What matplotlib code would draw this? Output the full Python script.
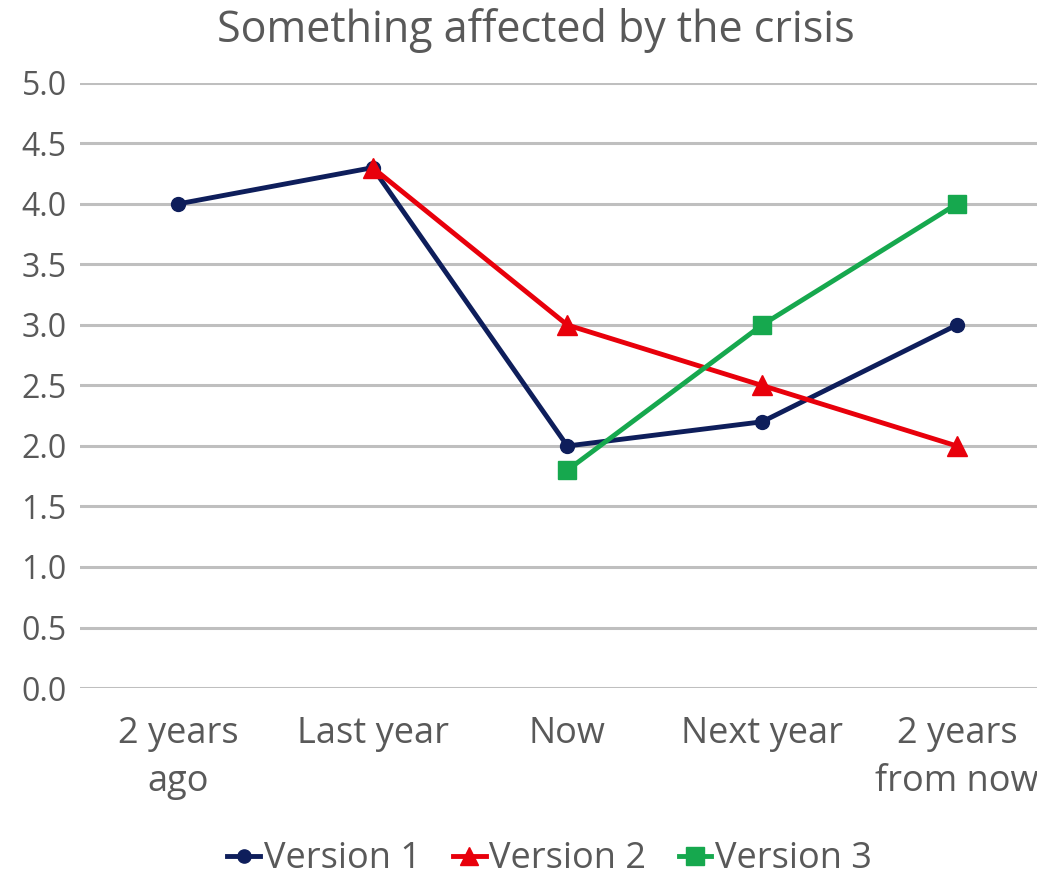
import numpy as np
import matplotlib
matplotlib.use("Agg")
import matplotlib.pyplot as plt

categories = ["2 years\nago", "Last year", "Now", "Next year", "2 years\nfrom now"]
version_1 = [4.0, 4.3, 2.0, 2.2, 3.0]
version_2 = [np.nan, 4.3, 3.0, 2.5, 2.0]
version_3 = [np.nan, np.nan, 1.8, 3.0, 4.0]
y_ticks = [0.0, 0.5, 1.0, 1.5, 2.0, 2.5, 3.0, 3.5, 4.0, 4.5, 5.0]

plt.rcParams["font.family"] = ["Open Sans", "DejaVu Sans"]
text_gray = "#595959"

fig = plt.figure(figsize=(10.37, 8.76), dpi=100)
ax = fig.add_axes([0.0776, 0.2146, 0.939, 0.6907])

x = np.arange(len(categories))
ax.plot(x, version_1, color="#0E1E5B", lw=3.5, marker="o", ms=10,
        label="Version 1", zorder=3)
ax.plot(x, version_2, color="#E8000B", lw=3.5, marker="^", ms=14,
        label="Version 2", zorder=4)
ax.plot(x, version_3, color="#16A84E", lw=3.5, marker="s", ms=13,
        label="Version 3", zorder=5)

ax.set_xlim(-0.5, 4.5)
ax.set_ylim(0, 5)
ax.set_yticks(y_ticks)
ax.set_yticklabels([f"{v:.1f}" for v in y_ticks])
ax.set_xticks(x)
ax.set_xticklabels(categories, linespacing=1.45)
ax.grid(True, axis="y", color="#BFBFBF", lw=2.2, zorder=0)
ax.set_axisbelow(True)
for s in ax.spines.values():
    s.set_visible(False)
ax.tick_params(axis="both", length=0, labelcolor=text_gray)
ax.tick_params(axis="x", labelsize=26, pad=20)
ax.tick_params(axis="y", labelsize=23, pad=10)

fig.text(0.517, 0.965, "Something affected by the crisis", ha="center",
         va="center", fontsize=31, color=text_gray)

fig.legend(*ax.get_legend_handles_labels(), loc="center", ncol=3,
           bbox_to_anchor=(0.53, 0.019), frameon=False, fontsize=26,
           labelcolor=text_gray, handlelength=0.9, handletextpad=0.1,
           columnspacing=0.9, markerscale=0.95, borderpad=0.1)

fig.savefig("out.png", dpi=100)
